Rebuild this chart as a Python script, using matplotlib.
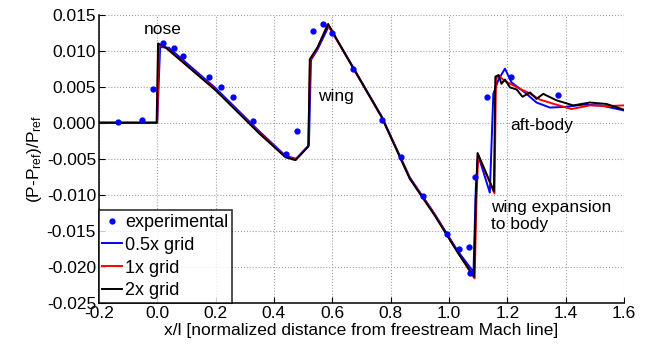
import numpy as np
import matplotlib
matplotlib.use("Agg")
import matplotlib.pyplot as plt

plt.rcParams['font.family'] = ['Liberation Sans', 'DejaVu Sans']
plt.rcParams['mathtext.fontset'] = 'custom'
plt.rcParams['mathtext.rm'] = 'Liberation Sans'
plt.rcParams['mathtext.it'] = 'Liberation Sans'

# experimental points
exp_x = [-0.135, -0.053, -0.015, 0.019, 0.057, 0.089, 0.178, 0.218, 0.26, 0.327,
         0.441, 0.48, 0.533, 0.569, 0.598, 0.670, 0.769, 0.835, 0.912, 0.992,
         1.033, 1.067, 1.072, 1.09, 1.132, 1.212, 1.375]
exp_y = [0.0001, 0.0004, 0.0047, 0.0110, 0.0104, 0.0092, 0.0064, 0.0050, 0.0035, 0.0002,
         -0.0043, -0.0012, 0.0127, 0.0137, 0.0124, 0.0074, 0.0004, -0.0048, -0.0102, -0.0155,
         -0.0175, -0.0172, -0.0209, -0.0076, 0.0035, 0.0064, 0.0039]

# 2x grid (black)
g2_x = [-0.2, -0.002, 0.003, 0.03, 0.2, 0.35, 0.44, 0.474, 0.518, 0.523, 0.55, 0.586,
        0.65, 0.769, 0.866, 0.95, 1.03, 1.086, 1.092, 1.098, 1.154, 1.159, 1.17, 1.18,
        1.192, 1.209, 1.232, 1.252, 1.278, 1.30, 1.323, 1.369, 1.426, 1.483, 1.54, 1.6]
g2_y = [0.0, 0.0, 0.0110, 0.0104, 0.0045, -0.0015, -0.0048, -0.0052, -0.0033, 0.0088, 0.0105, 0.0137,
        0.0091, 0.0008, -0.0078, -0.0128, -0.0180, -0.0214, -0.0105, -0.0042, -0.0095, 0.0064, 0.0066, 0.0054,
        0.0060, 0.0049, 0.0046, 0.0036, 0.0042, 0.0033, 0.0040, 0.0031, 0.0024, 0.0028, 0.0026, 0.0018]

# 1x grid (red)
g1_x = [-0.2, 0.0, 0.006, 0.03, 0.2, 0.35, 0.44, 0.474, 0.518, 0.524, 0.55, 0.584,
        0.65, 0.769, 0.866, 0.95, 1.03, 1.088, 1.094, 1.100, 1.156, 1.161, 1.170, 1.19,
        1.215, 1.243, 1.27, 1.312, 1.36, 1.42, 1.483, 1.54, 1.6]
g1_y = [0.0, 0.0, 0.0108, 0.0104, 0.0046, -0.0014, -0.0047, -0.0051, -0.0033, 0.0087, 0.0104, 0.0136,
        0.0091, 0.0008, -0.0077, -0.0127, -0.0180, -0.0216, -0.0110, -0.0045, -0.0098, 0.0060, 0.0066, 0.0058,
        0.0053, 0.0047, 0.0042, 0.0032, 0.0026, 0.0019, 0.0024, 0.0023, 0.0024]

# 0.5x grid (blue)
g05_x = [-0.2, 0.0, 0.01, 0.04, 0.2, 0.35, 0.44, 0.476, 0.52, 0.527, 0.55, 0.588,
         0.65, 0.769, 0.866, 0.95, 1.03, 1.084, 1.092, 1.100, 1.14, 1.152, 1.170, 1.192,
         1.214, 1.26, 1.30, 1.346, 1.40, 1.46, 1.52, 1.6]
g05_y = [0.0, 0.0, 0.0105, 0.0104, 0.0048, -0.0012, -0.0046, -0.0050, -0.0031, 0.0087, 0.0102, 0.0134,
         0.0092, 0.0009, -0.0076, -0.0126, -0.0178, -0.0207, -0.0090, -0.0045, -0.0097, 0.0040, 0.0060, 0.0075,
         0.0056, 0.0042, 0.0028, 0.0021, 0.0022, 0.0025, 0.0024, 0.0017]

fs = 12.5

fig = plt.figure(figsize=(6.46, 3.47), dpi=100)
ax = fig.add_axes([0.153, 0.127, 0.813, 0.831])

ax.plot(exp_x, exp_y, '.', color='#0000ff', markersize=7, label='experimental', zorder=5)
ax.plot(g05_x, g05_y, color='#0000ff', lw=1.4, label='0.5x grid')
ax.plot(g1_x, g1_y, color='#ff0000', lw=1.4, label='1x grid')
ax.plot(g2_x, g2_y, color='black', lw=1.4, label='2x grid')

ax.set_xlim(-0.2, 1.6)
ax.set_ylim(-0.025, 0.015)
ax.set_xticks(np.arange(-0.2, 1.61, 0.2))
ax.set_yticks(np.arange(-0.025, 0.0151, 0.005))
ax.xaxis.set_major_formatter(matplotlib.ticker.FormatStrFormatter('%.1f'))
ax.yaxis.set_major_formatter(matplotlib.ticker.FormatStrFormatter('%.3f'))
ax.tick_params(direction='in', labelsize=fs, length=4, pad=2)
ax.grid(True, color='#a0a0a0', linestyle=':', linewidth=0.8)
for s in ['top', 'right']:
    ax.spines[s].set_visible(False)
for s in ['left', 'bottom']:
    ax.spines[s].set_linewidth(1.1)

ax.set_xlabel('x/l [normalized distance from freestream Mach line]', fontsize=fs, labelpad=2)
ax.set_ylabel('(P-P$_{\\mathrm{ref}}$)/P$_{\\mathrm{ref}}$', fontsize=fs, labelpad=2)

ax.text(0.019, 0.0129, 'nose', fontsize=fs, ha='center', va='center')
ax.text(0.55, 0.0036, 'wing', fontsize=fs, ha='left', va='center')
ax.text(1.209, -0.0004, 'aft-body', fontsize=fs, ha='left', va='center')
ax.text(1.143, -0.0107, 'wing expansion\nto body', fontsize=fs, ha='left', va='top', linespacing=1.15)

leg = ax.legend(loc='lower left', prop={'size': 13}, frameon=True, fancybox=False,
                borderaxespad=0, handlelength=1.1, handletextpad=0.15,
                borderpad=0.2, labelspacing=0.32, edgecolor='black')
leg.get_frame().set_linewidth(1.2)

fig.savefig('out.png', dpi=100)
